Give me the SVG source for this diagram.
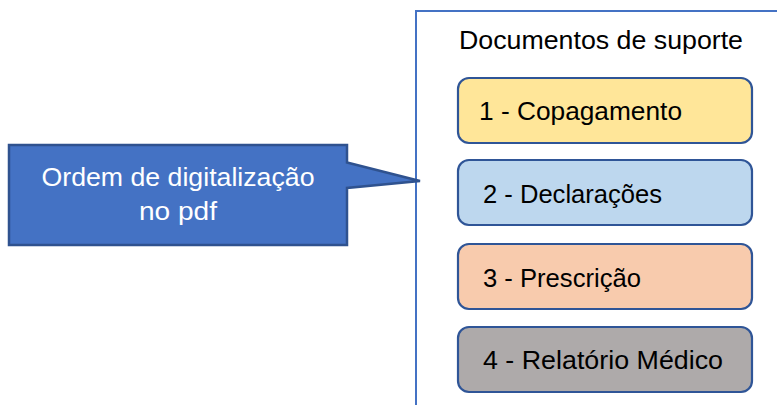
<svg xmlns="http://www.w3.org/2000/svg" width="777" height="405" viewBox="0 0 777 405">
<style>
text{font-family:"Liberation Sans",Arial,sans-serif;font-size:26px;fill:#000}
.box{stroke:#2F5597;stroke-width:2.2}
.wt{fill:#fff;text-anchor:middle}
</style>
<rect width="777" height="405" fill="#fff"/>
<g id="container">
<rect x="416" y="11" width="380" height="420" fill="#fff" stroke="#4472C4" stroke-width="2"/>
<text x="459" y="49" textLength="284" lengthAdjust="spacingAndGlyphs">Documentos de suporte</text>
</g>
<g id="callout">
<path d="M9,145 H347 V162.5 L420,181 L347,188 V245 H9 Z" fill="#4472C4" stroke="#2F528F" stroke-width="2.5" stroke-linejoin="miter"/>
<text class="wt" x="178" y="186" textLength="273" lengthAdjust="spacingAndGlyphs">Ordem de digitalização</text>
<text class="wt" x="178" y="220" textLength="78" lengthAdjust="spacingAndGlyphs">no pdf</text>
</g>
<g id="doc1">
<rect class="box" x="458" y="78" width="294" height="65" rx="11" fill="#FFE699"/>
<text x="479" y="120" textLength="203" lengthAdjust="spacingAndGlyphs">1 - Copagamento</text>
</g>
<g id="doc2">
<rect class="box" x="458" y="160" width="294" height="65" rx="11" fill="#BDD7EE"/>
<text x="483" y="203" textLength="179" lengthAdjust="spacingAndGlyphs">2 - Declarações</text>
</g>
<g id="doc3">
<rect class="box" x="458" y="244" width="294" height="65" rx="11" fill="#F8CBAD"/>
<text x="483" y="287" textLength="158" lengthAdjust="spacingAndGlyphs">3 - Prescrição</text>
</g>
<g id="doc4">
<rect class="box" x="458" y="327" width="294" height="65" rx="11" fill="#AEAAAA"/>
<text x="483" y="369" textLength="240" lengthAdjust="spacingAndGlyphs">4 - Relatório Médico</text>
</g>
<g id="connectors"></g>
</svg>
